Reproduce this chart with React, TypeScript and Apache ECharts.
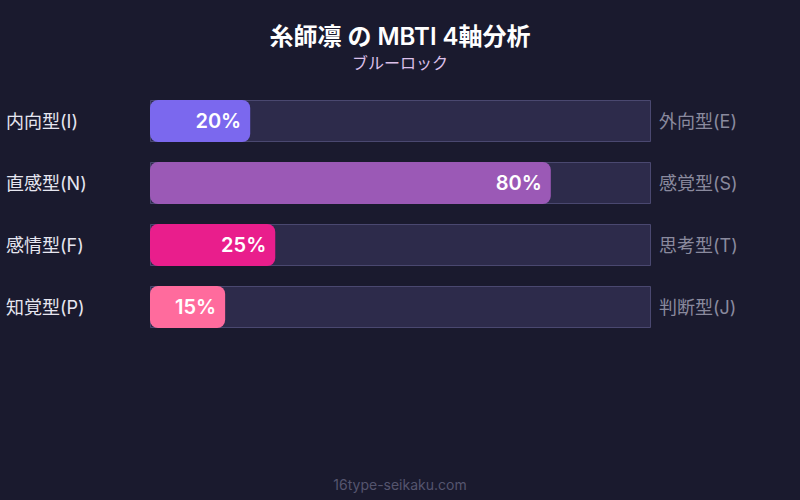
import { useEffect, useRef } from 'react';
import * as echarts from 'echarts';

// データ
const leftLabels = ['内向型(I)', '直感型(N)', '感情型(F)', '知覚型(P)'];
const rightLabels = ['外向型(E)', '感覚型(S)', '思考型(T)', '判断型(J)'];
const values = [20, 80, 25, 15];
const barColors = ['#7b68ee', '#9b59b6', '#e91e8c', '#ff6b9d'];
const trackValues = [100, 100, 100, 100];

const FONT = "Inter, 'Noto Sans CJK JP', sans-serif";

const App = () => {
    const chartRef = useRef<HTMLDivElement>(null);

    useEffect(() => {
        document.body.style.margin = '0';
        if (!chartRef.current) return;
        const chart = echarts.init(chartRef.current, undefined, { renderer: 'svg' });

        chart.setOption({
            animation: false,
            backgroundColor: '#1a1a2e',
            title: [
                {
                    text: '糸師凛 の MBTI 4軸分析',
                    subtext: 'ブルーロック',
                    left: 'center',
                    top: 19,
                    itemGap: 7,
                    textStyle: { color: '#ffffff', fontSize: 24, fontWeight: 600, fontFamily: FONT },
                    subtextStyle: { color: '#dcc0ea', fontSize: 16, fontFamily: FONT }
                },
                {
                    text: '16type-seikaku.com',
                    left: 'center',
                    bottom: 4,
                    textStyle: { color: '#55556e', fontSize: 14, fontWeight: 'normal', fontFamily: FONT }
                }
            ],
            grid: { left: 150, right: 149, top: 90, height: 248 },
            xAxis: { type: 'value', min: 0, max: 100, show: false },
            yAxis: [
                {
                    type: 'category',
                    inverse: true,
                    data: leftLabels,
                    position: 'left',
                    axisLine: { show: false },
                    axisTick: { show: false },
                    axisLabel: {
                        color: '#e6e6f0',
                        fontSize: 18,
                        fontFamily: FONT,
                        align: 'left',
                        margin: 144,
                        padding: [0, 0, 3, 0]
                    }
                },
                {
                    type: 'category',
                    inverse: true,
                    data: rightLabels,
                    position: 'right',
                    axisLine: { show: false },
                    axisTick: { show: false },
                    axisLabel: { color: '#8a8a9e', fontSize: 18, fontFamily: FONT, margin: 8, padding: [0, 0, 3, 0] }
                }
            ],
            series: [
                {
                    type: 'bar',
                    data: trackValues,
                    barWidth: 42,
                    silent: true,
                    itemStyle: { color: '#2d2b4b', borderColor: '#4a4870', borderWidth: 1 }
                },
                {
                    type: 'bar',
                    data: values.map((v, i) => ({ value: v, itemStyle: { color: barColors[i] } })),
                    barWidth: 42,
                    barGap: '-100%',
                    itemStyle: { borderRadius: 8 },
                    label: {
                        show: true,
                        position: 'insideRight',
                        distance: 9,
                        formatter: '{c}%',
                        color: '#ffffff',
                        fontSize: 20,
                        fontWeight: 600,
                        fontFamily: FONT
                    }
                }
            ]
        });

        return () => {
            chart.dispose();
        };
    }, []);

    return <div ref={chartRef} style={{ width: 800, height: 500 }} />;
};

export default App;
